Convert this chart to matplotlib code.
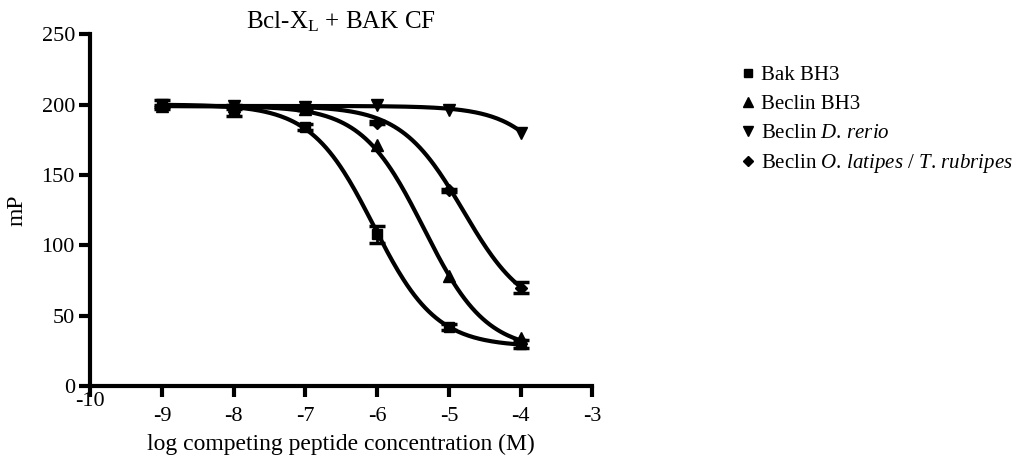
import numpy as np
import matplotlib
matplotlib.use("Agg")
import matplotlib.pyplot as plt
import matplotlib.transforms as mtransforms

plt.rcParams['font.family'] = ['Liberation Serif', 'DejaVu Serif']
plt.rcParams['mathtext.fontset'] = 'custom'
plt.rcParams['mathtext.rm'] = 'Liberation Serif'
plt.rcParams['mathtext.it'] = 'Liberation Serif:italic'
plt.rcParams['axes.unicode_minus'] = False

# measured points
logc = [-9, -8, -7, -6, -5, -4]
bak = [200, 196, 184, 108, 42, 30]
bak_err = [3, 4, 2, 6, 2, 3]
beclin = [199, 199, 197, 171, 78, 34]
rerio = [200, 199, 198, 200, 196, 180]
latipes = [199, 198, 197, 187, 139, 70]
latipes_err = [1, 1, 1, 1, 1, 4]

# fitted dose-response parameters: top, bottom, logIC50, hill
fit_bak = (200, 28, -6.05, 1.0)
fit_beclin = (199, 25, -5.35, 1.0)
fit_rerio = (199, 0, -3.0, 1.0)
fit_latipes = (199, 50, -4.8, 1.0)

labels = ['Bak BH3', 'Beclin BH3', 'Beclin $\\mathit{D.\\,rerio}$',
          'Beclin $\\mathit{O.\\,latipes}$ / $\\mathit{T.\\,rubripes}$']


def curve(x, p):
    top, bottom, ic50, hill = p
    return bottom + (top - bottom) / (1 + 10 ** ((x - ic50) * hill))


fig = plt.figure(figsize=(10.25, 4.68), dpi=100)
ax = fig.add_axes([0.088, 0.175, 0.49, 0.752])

xs = np.linspace(-9, -4, 200)
series = [
    (bak, bak_err, fit_bak, 's', 7),
    (beclin, None, fit_beclin, '^', 8),
    (rerio, None, fit_rerio, 'v', 8),
    (latipes, latipes_err, fit_latipes, 'D', 6),
]
handles = []
for (vals, err, fit, mk, ms), lab in zip(series, labels):
    ax.plot(xs, curve(xs, fit), color='black', lw=3, zorder=2)
    if err is not None:
        ax.errorbar(logc, vals, yerr=err, fmt='none', ecolor='black',
                    elinewidth=2, capsize=6, capthick=2.5, zorder=3)
    h, = ax.plot(logc, vals, linestyle='none', marker=mk, ms=ms,
                 color='black', zorder=4, label=lab)
    handles.append(h)

ax.set_xlim(-10, -3)
ax.set_ylim(0, 250)
ax.set_xticks(range(-10, -2))
ax.set_yticks(range(0, 251, 50))
for s in ['top', 'right']:
    ax.spines[s].set_visible(False)
for s in ['left', 'bottom']:
    ax.spines[s].set_linewidth(3)
ax.tick_params(width=3, length=8, direction='out', labelsize=16)
ax.tick_params(axis='x', pad=7)
ax.tick_params(axis='y', pad=3)

# first x label sits higher, as in the original
lbl = ax.get_xticklabels()[0]
lbl.set_transform(lbl.get_transform() + mtransforms.ScaledTranslation(0, 11 / 72, fig.dpi_scale_trans))

ax.set_xlabel('log competing peptide concentration (M)', fontsize=17, labelpad=6)
ax.set_ylabel('mP', fontsize=17, labelpad=10)
ax.set_title('Bcl-X$_\\mathrm{L}$ + BAK CF', fontsize=18, pad=4)

fig.legend(handles=handles, loc='upper left', bbox_to_anchor=(0.706, 0.9),
           frameon=False, fontsize=15, handlelength=0.5, handletextpad=0.4,
           labelspacing=0.45, markerscale=0.85)

fig.savefig('out.png', dpi=100)
